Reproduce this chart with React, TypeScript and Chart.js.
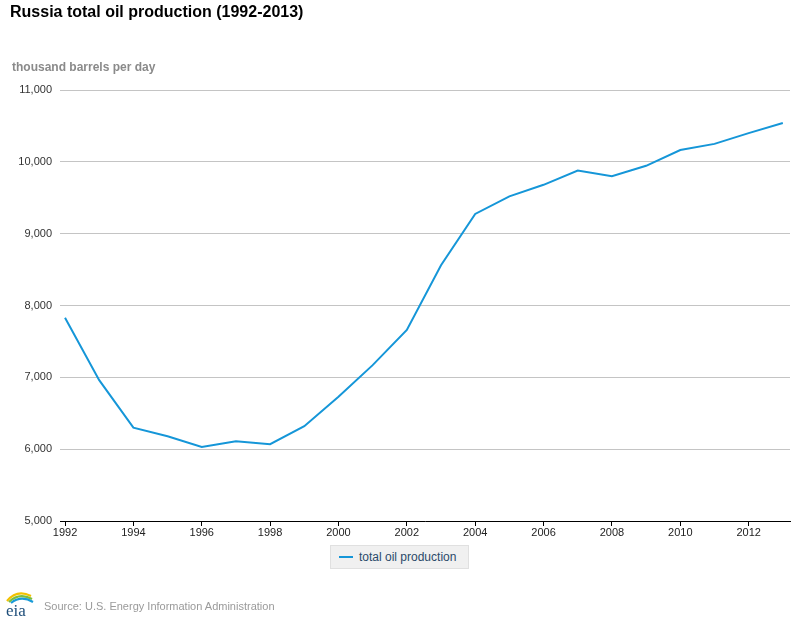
import React, { useEffect, useRef } from "react";
import { Chart, registerables } from "chart.js";

Chart.register(...registerables);

const years = [1992, 1993, 1994, 1995, 1996, 1997, 1998, 1999, 2000, 2001, 2002, 2003, 2004, 2005, 2006, 2007, 2008, 2009, 2010, 2011, 2012, 2013];
const production = [7830, 6960, 6300, 6180, 6030, 6110, 6070, 6320, 6730, 7170, 7660, 8560, 9275, 9520, 9680, 9880, 9800, 9945, 10165, 10250, 10400, 10540];
const xTickYears = [1992, 1994, 1996, 1998, 2000, 2002, 2004, 2006, 2008, 2010, 2012];
const yTicks = [5000, 6000, 7000, 8000, 9000, 10000, 11000];

const title = "Russia total oil production (1992-2013)";
const unitLabel = "thousand barrels per day";
const seriesName = "total oil production";
const source = "Source: U.S. Energy Information Administration";

const LINE = "#1596d8";
const FONT = "'Liberation Sans', Arial, Helvetica, sans-serif";

export default function App() {
  const ref = useRef<HTMLCanvasElement | null>(null);

  useEffect(() => {
    document.body.style.margin = "0";
    const ctx = ref.current;
    if (!ctx) return;
    const chart = new Chart(ctx, {
      type: "line",
      data: {
        datasets: [
          {
            label: seriesName,
            data: years.map((y, i) => ({ x: y, y: production[i] })),
            borderColor: LINE,
            backgroundColor: LINE,
            borderWidth: 2,
            pointRadius: 0,
            tension: 0,
          },
        ],
      },
      options: {
        animation: false,
        responsive: false,
        maintainAspectRatio: false,
        layout: { padding: { left: 0, right: 10, top: 90, bottom: 0 } },
        plugins: {
          legend: { display: false },
          tooltip: { enabled: false },
          title: { display: false },
        },
        scales: {
          x: {
            type: "linear",
            min: 1991.853,
            max: 2013.21,
            afterBuildTicks: (scale: any) => {
              scale.ticks = xTickYears.map((v) => ({ value: v }));
            },
            afterFit: (scale: any) => {
              scale.height = 99;
            },
            ticks: {
              callback: (v: any) => String(v),
              color: "#222",
              font: { family: FONT, size: 11 },
              padding: 0,
              maxRotation: 0,
              autoSkip: false,
            },
            grid: {
              display: true,
              drawOnChartArea: false,
              drawTicks: true,
              tickLength: 5,
              color: "#000",
            },
            border: { display: true, color: "#000", width: 1 },
          },
          y: {
            type: "linear",
            min: 5000,
            max: 11000,
            afterBuildTicks: (scale: any) => {
              scale.ticks = yTicks.map((v) => ({ value: v }));
            },
            afterFit: (scale: any) => {
              scale.width = 60;
            },
            ticks: {
              callback: (v: any) => Number(v).toLocaleString("en-US"),
              color: "#333",
              font: { family: FONT, size: 11 },
              padding: 8,
            },
            grid: {
              color: "#c4c4c4",
              lineWidth: 1,
              drawTicks: false,
            },
            border: { display: false },
          },
        },
      },
    });
    return () => chart.destroy();
  }, []);

  return (
    <div style={{ position: "absolute", left: 0, top: 0, width: 800, height: 620, background: "#fff", fontFamily: FONT }}>
      <canvas ref={ref} width={800} height={620} style={{ position: "absolute", left: 0, top: 0, width: 800, height: 620 }} />
      <div style={{ position: "absolute", left: 10, top: 3, fontSize: 16, fontWeight: "bold", color: "#000", whiteSpace: "nowrap" }}>
        {title}
      </div>
      <div style={{ position: "absolute", left: 12, top: 60, fontSize: 12, fontWeight: "bold", color: "#8a8a8a", whiteSpace: "nowrap" }}>
        {unitLabel}
      </div>
      <div
        style={{
          position: "absolute",
          left: 330,
          top: 545,
          width: 137,
          height: 22,
          background: "#f0f0f0",
          border: "1px solid #e0e0e0",
          display: "flex",
          alignItems: "center",
        }}
      >
        <div style={{ marginLeft: 8, width: 14, height: 2, background: LINE }} />
        <div style={{ marginLeft: 6, fontSize: 12, color: "#2b4a6a", whiteSpace: "nowrap" }}>{seriesName}</div>
      </div>
      <svg style={{ position: "absolute", left: 3, top: 588 }} width={34} height={30} viewBox="0 0 34 30">
        <path d="M4 13 Q14 1 28 8" stroke="#f2c100" strokeWidth="2.2" fill="none" />
        <path d="M6 14 Q16 4 29 11" stroke="#7cbd3b" strokeWidth="2.2" fill="none" />
        <path d="M8 15 Q18 7 30 14" stroke="#1a9bd7" strokeWidth="2.2" fill="none" />
        <text x="3" y="28" fontFamily="'Liberation Serif', serif" fontSize="17" fill="#1e4e7a">eia</text>
      </svg>
      <div style={{ position: "absolute", left: 44, top: 600, fontSize: 11, color: "#9a9a9a", whiteSpace: "nowrap" }}>
        {source}
      </div>
    </div>
  );
}
